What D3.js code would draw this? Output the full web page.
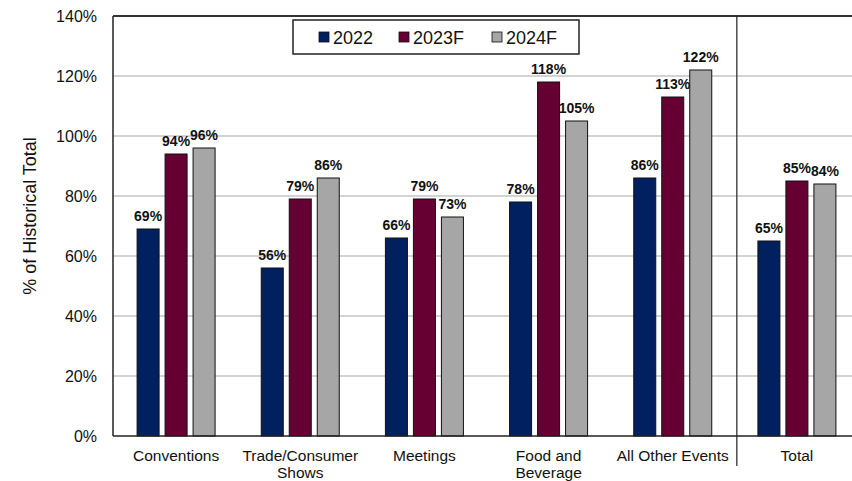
<!DOCTYPE html>
<html>
<head>
<meta charset="utf-8">
<script src="https://cdn.jsdelivr.net/npm/d3@7"></script>
<style>
  html, body { margin: 0; padding: 0; background: #fff; }
  svg { display: block; font-family: "Liberation Sans", Arial, sans-serif; }
</style>
</head>
<body>
<svg id="chart" width="852" height="481"></svg>
<script>
// Event categories (multi-line labels split on "\n")
const categories = ["Conventions", "Trade/Consumer\nShows", "Meetings", "Food and\nBeverage", "All Other Events", "Total"];
const seriesNames = ["2022", "2023F", "2024F"];
const seriesColors = ["#002060", "#660033", "#A6A6A6"];
// Percent of historical total, per series
const values2022 = [69, 56, 66, 78, 86, 65];
const values2023F = [94, 79, 79, 118, 113, 85];
const values2024F = [96, 86, 73, 105, 122, 84];
const yTicks = [0, 20, 40, 60, 80, 100, 120, 140];

const seriesValues = [values2022, values2023F, values2024F];

const svg = d3.select("#chart");
const margin = { left: 114, top: 16, bottom: 436 };
const plotRight = 859;

const x0 = d3.scaleBand().domain(categories).range([margin.left, plotRight]).padding(0);
const x1 = d3.scaleBand().domain(seriesNames).range([-39, 39]).paddingInner(0.214).paddingOuter(0);
const y = d3.scaleLinear().domain([0, 140]).range([margin.bottom, margin.top]);

// Horizontal grid lines
svg.append("g")
  .selectAll("line")
  .data(yTicks.filter(t => t > 0 && t < 140))
  .join("line")
  .attr("x1", margin.left - 1).attr("x2", 852)
  .attr("y1", d => y(d)).attr("y2", d => y(d))
  .attr("stroke", "#c4c4c4").attr("stroke-width", 1.5);

// Y axis tick labels
const yAxis = d3.axisLeft(y).tickValues(yTicks).tickFormat(d => d + "%").tickSize(0).tickPadding(16);
const yg = svg.append("g").attr("transform", `translate(${margin.left - 1},0)`).call(yAxis);
yg.select(".domain").remove();
yg.selectAll("text").attr("font-size", 16).attr("fill", "#111").attr("font-family", "Liberation Sans, Arial, sans-serif");

// Bars
const groups = svg.append("g")
  .selectAll("g")
  .data(categories)
  .join("g")
  .attr("transform", d => `translate(${x0(d) + x0.bandwidth() / 2},0)`);

groups.selectAll("rect")
  .data((c, i) => seriesNames.map((s, j) => ({ s, j, v: seriesValues[j][i] })))
  .join("rect")
  .attr("x", d => x1(d.s))
  .attr("width", x1.bandwidth())
  .attr("y", d => y(d.v))
  .attr("height", d => y(0) - y(d.v))
  .attr("fill", d => seriesColors[d.j])
  .attr("stroke", "#111")
  .attr("stroke-width", 1);

// Value labels
groups.selectAll("text")
  .data((c, i) => seriesNames.map((s, j) => ({ s, j, v: seriesValues[j][i] })))
  .join("text")
  .attr("x", d => x1(d.s) + x1.bandwidth() / 2)
  .attr("y", d => y(d.v) - 8)
  .attr("text-anchor", "middle")
  .attr("font-size", 14)
  .attr("font-weight", "bold")
  .attr("fill", "#111")
  .text(d => d.v + "%");

// Plot frame: left axis, top border, baseline
svg.append("line").attr("x1", margin.left - 1).attr("x2", margin.left - 1)
  .attr("y1", margin.top).attr("y2", margin.bottom).attr("stroke", "#222").attr("stroke-width", 1.5);
svg.append("line").attr("x1", margin.left - 1).attr("x2", 852)
  .attr("y1", margin.top).attr("y2", margin.top).attr("stroke", "#333").attr("stroke-width", 2);
svg.append("line").attr("x1", margin.left - 1).attr("x2", 852)
  .attr("y1", margin.bottom).attr("y2", margin.bottom).attr("stroke", "#222").attr("stroke-width", 1.5);

// Divider separating the total from the individual categories
const divX = x0("Total") + 2;
svg.append("line").attr("x1", divX).attr("x2", divX)
  .attr("y1", margin.top).attr("y2", 466).attr("stroke", "#222").attr("stroke-width", 1.2);

// Category labels
const catLabels = svg.append("g")
  .selectAll("text")
  .data(categories)
  .join("text")
  .attr("text-anchor", "middle")
  .attr("font-size", 15.5)
  .attr("fill", "#111")
  .attr("transform", d => `translate(${x0(d) + x0.bandwidth() / 2},${margin.bottom + 25})`);
catLabels.selectAll("tspan")
  .data(d => d.split("\n"))
  .join("tspan")
  .attr("x", 0)
  .attr("dy", (d, i) => i === 0 ? 0 : 16.5)
  .text(d => d);

// Y axis title
svg.append("text")
  .attr("transform", "translate(36,216) rotate(-90)")
  .attr("text-anchor", "middle")
  .attr("font-size", 18)
  .attr("fill", "#111")
  .text("% of Historical Total");

// Legend
const legend = svg.append("g");
legend.append("rect")
  .attr("x", 293).attr("y", 20).attr("width", 286).attr("height", 34)
  .attr("fill", "#fff").attr("stroke", "#222").attr("stroke-width", 1.5);
const legendX = [319, 399, 492];
const items = legend.selectAll("g.item")
  .data(seriesNames)
  .join("g")
  .attr("class", "item")
  .attr("transform", (d, i) => `translate(${legendX[i]},37)`);
items.append("rect")
  .attr("x", 0).attr("y", -5).attr("width", 10).attr("height", 10)
  .attr("fill", (d, i) => seriesColors[i])
  .attr("stroke", "#111").attr("stroke-width", 0.8);
items.append("text")
  .attr("x", 14).attr("y", 7)
  .attr("font-size", 18)
  .attr("fill", "#111")
  .text(d => d);
</script>
</body>
</html>
